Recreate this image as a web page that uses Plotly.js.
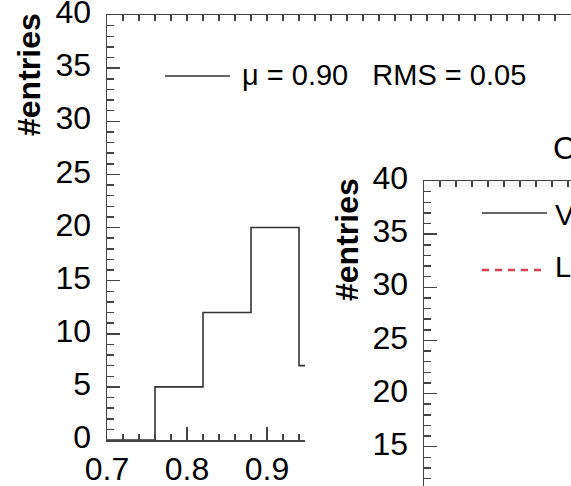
<!DOCTYPE html>
<html>
<head>
<meta charset="utf-8">
<script src="https://cdn.plot.ly/plotly-3.0.1.min.js"></script>
<style>
  html, body { margin: 0; padding: 0; background: #fff; }
  #chart { width: 571px; height: 486px; }
</style>
</head>
<body>
<div id="chart"></div>
<script>
// Histogram of the ratio: bin edges and entries per bin
const binEdges = [0.70, 0.76, 0.82, 0.88, 0.94, 1.00];
const binCounts = [0, 5, 12, 20, 7];

// Tick labels
const yTickVals = [0, 5, 10, 15, 20, 25, 30, 35, 40];
const xTickVals = [0.7, 0.8, 0.9, 1.0, 1.1, 1.2];

// Legend and title texts
const statsLabel = "\u03bc = 0.90\u00a0\u00a0 RMS = 0.05";
const yTitle = "#entries";
const insetTitle = "C";
const insetLegend = ["V", "L"];

const W = 571, H = 486;
const px = x => x / W;
const py = y => 1 - y / H;

const FONT = "Liberation Sans, Arial, Helvetica, sans-serif";
const AXC = "#444";

// step outline of the histogram
const stepX = [], stepY = [];
for (let i = 0; i < binCounts.length; i++) {
  stepX.push(binEdges[i]);
  stepY.push(binCounts[i]);
}
stepX.push(binEdges[binEdges.length - 1]);
stepY.push(binCounts[binCounts.length - 1]);
stepX.push(binEdges[binEdges.length - 1]);
stepY.push(0);

const traces = [
  {
    type: "scatter", mode: "lines", x: stepX, y: stepY,
    line: { shape: "hv", color: "#333", width: 1.6 },
    xaxis: "x", yaxis: "y", showlegend: false, hoverinfo: "skip"
  },
  { type: "scatter", mode: "lines", x: [], y: [], xaxis: "x4", yaxis: "y", showlegend: false },
  { type: "scatter", mode: "lines", x: [], y: [], xaxis: "x2", yaxis: "y2", showlegend: false },
  { type: "scatter", mode: "lines", x: [], y: [], xaxis: "x3", yaxis: "y3", showlegend: false }
];

const tickFont = { family: FONT, size: 32, color: "#000" };
const common = {
  showline: true, linecolor: AXC, linewidth: 1.5,
  ticks: "inside", tickcolor: AXC, tickwidth: 1.5,
  showgrid: false, zeroline: false, fixedrange: true,
  ticklabeloverflow: "allow"
};

const layout = {
  width: W, height: H,
  margin: { l: 0, r: 0, t: 0, b: 0, pad: 0 },
  paper_bgcolor: "#fff", plot_bgcolor: "#fff",
  showlegend: false,
  xaxis: Object.assign({}, common, {
    domain: [px(107), 1], anchor: "y",
    range: [0.7, 0.7 + (571 - 107) / 800],
    tickmode: "array", tickvals: xTickVals, ticktext: xTickVals.map(v => v.toFixed(1)),
    ticklen: 13, tickfont: tickFont, ticklabelstandoff: 0,
    minor: { dtick: 0.02, tick0: 0.7, ticks: "inside", ticklen: 6, tickcolor: AXC, tickwidth: 1.5, showgrid: false }
  }),
  xaxis4: Object.assign({}, common, {
    overlaying: "x", side: "top", anchor: "y",
    range: [0.7, 0.7 + (571 - 107) / 800],
    dtick: 0.02, tick0: 0.7, ticklen: 6, showticklabels: false
  }),
  yaxis: Object.assign({}, common, {
    domain: [py(440), py(15)], anchor: "x",
    range: [0, 40],
    tickmode: "array", tickvals: yTickVals,
    ticklen: 13, tickfont: tickFont, ticklabelstandoff: 8, ticklabelshift: -3,
    minor: { dtick: 1, ticks: "inside", ticklen: 7, tickcolor: AXC, tickwidth: 1.5, showgrid: false }
  }),
  // blank panel that the second chart sits on
  xaxis2: { domain: [px(305), 1], anchor: "y2", range: [0, 1], visible: false, fixedrange: true },
  yaxis2: { domain: [0, py(120)], anchor: "x2", range: [0, 1], visible: false, fixedrange: true },
  // second chart
  xaxis3: Object.assign({}, common, {
    domain: [px(424), 1], anchor: "y3", side: "top",
    range: [0.7, 0.7 + (571 - 424) / 800],
    dtick: 0.02, tick0: 0.7, ticklen: 6, showticklabels: false
  }),
  yaxis3: Object.assign({}, common, {
    domain: [0, py(181)], anchor: "x3",
    range: [40 - (486 - 181) / 10.625, 40],
    tickmode: "array", tickvals: yTickVals,
    ticklen: 13, tickfont: tickFont, ticklabelstandoff: 8, ticklabelshift: -3,
    minor: { dtick: 1, ticks: "inside", ticklen: 7, tickcolor: AXC, tickwidth: 1.5, showgrid: false }
  }),
  shapes: [
    { type: "line", xref: "paper", yref: "paper", x0: px(165), x1: px(230), y0: py(76), y1: py(76),
      line: { color: "#333", width: 1.5 } },
    { type: "line", xref: "paper", yref: "paper", x0: px(482), x1: px(547), y0: py(213), y1: py(213),
      line: { color: "#333", width: 1.5 } },
    { type: "line", xref: "paper", yref: "paper", x0: px(482), x1: px(543), y0: py(270), y1: py(270),
      line: { color: "#d9404c", width: 2.3, dash: "7px,6px" } }
  ],
  annotations: [
    { xref: "paper", yref: "paper", x: px(29), y: py(75), text: yTitle, textangle: -90,
      showarrow: false, xanchor: "center", yanchor: "middle",
      font: { family: FONT, size: 32, color: "#000", weight: "bold" } },
    { xref: "paper", yref: "paper", x: px(347), y: py(240), text: yTitle, textangle: -90,
      showarrow: false, xanchor: "center", yanchor: "middle",
      font: { family: FONT, size: 32, color: "#000", weight: "bold" } },
    { xref: "paper", yref: "paper", x: px(240), y: py(75), text: statsLabel,
      showarrow: false, xanchor: "left", yanchor: "middle",
      font: { family: FONT, size: 29, color: "#000" } },
    { xref: "paper", yref: "paper", x: px(551), y: py(148), text: insetTitle,
      showarrow: false, xanchor: "left", yanchor: "middle",
      font: { family: FONT, size: 32, color: "#000" } },
    { xref: "paper", yref: "paper", x: px(553), y: py(215), text: insetLegend[0],
      showarrow: false, xanchor: "left", yanchor: "middle",
      font: { family: FONT, size: 29, color: "#000" } },
    { xref: "paper", yref: "paper", x: px(553), y: py(267), text: insetLegend[1],
      showarrow: false, xanchor: "left", yanchor: "middle",
      font: { family: FONT, size: 29, color: "#000" } }
  ]
};

Plotly.newPlot("chart", traces, layout, { staticPlot: true, displayModeBar: false });
</script>
</body>
</html>
